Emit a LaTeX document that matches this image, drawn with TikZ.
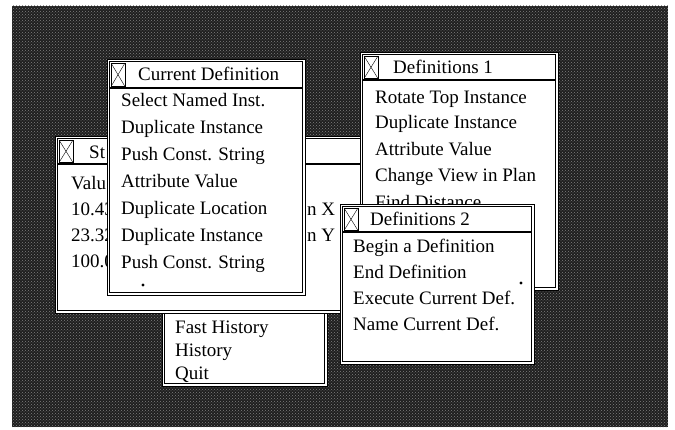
\documentclass[tikz,border=0pt]{standalone}
\usepackage{fontspec}
\setmainfont{Liberation Serif}
\usetikzlibrary{patterns}
\newcommand{\winfont}{\fontsize{19}{22}\selectfont}
% window: x1, y1, x2, y2, bottom of title bar
\newcommand{\mkwin}[5]{%
\fill[white] (#1,#2) rectangle (#3,#4);
\draw[line width=0.6pt] (#1,#2) rectangle (#3,#4);
\draw[line width=1.3pt] (#1+2.5,#2+2.5) rectangle (#3-2.5,#4-2.5);
\draw[line width=1.3pt] (#1+2.5,#5) -- (#3-2.5,#5);
\draw[line width=0.9pt] (#1+4,#2+4) rectangle (#1+18,#5-1.5);
\draw[line width=0.4pt] (#1+4,#2+4) -- (#1+18,#5-1.5) (#1+18,#2+4) -- (#1+4,#5-1.5);
}
\tikzset{
item/.style={anchor=base west, inner sep=0pt, font=\winfont},
}
\begin{document}
\begin{tikzpicture}[x=1pt, y=-1pt]
\useasboundingbox (0,0) rectangle (675,430);
\fill[black!88] (12,6) rectangle (668,427);
\fill[pattern=crosshatch dots, pattern color=black!50] (12,6) rectangle (668,427);
% history menu, under the status window
\fill[white] (162,280) rectangle (327,386);
\draw[line width=0.6pt] (162,280) rectangle (327,386);
\draw[line width=1.3pt] (164.5,280) rectangle (324.5,383.5);
\node[item] (FH) at (175,333.5) {Fast History};
\node[item] (HI) at (175,356.5) {History};
\node[item] (QU) at (175,379.5) {Quit};
% status window
\mkwin{55}{136}{420}{313}{164}
\node[item] (ST) at (89,158.5) {St};
\node[item] (SV) at (71,189.5) {Valu};
\node[item] (S1) at (71,215.5) {10.43};
\node[item] (S2) at (71,241.5) {23.32};
\node[item] (S3) at (71,267.5) {100.0};
\node[item] (SX) at (307,215.5) {n X};
\node[item] (SY) at (307,241.5) {n Y};
% definitions 1
\mkwin{360}{52}{558}{290}{80}
\node[item] (D1) at (393,73.5) {Definitions 1};
\node[item] (D11) at (375,103.5) {Rotate Top Instance};
\node[item] (D12) at (375,129) {Duplicate Instance};
\node[item] (D13) at (375,155.5) {Attribute Value};
\node[item] (D14) at (375,181.5) {Change View in Plan};
\node[item] (D15) at (375,209) {Find Distance};
% current definition
\mkwin{107}{59}{305}{295}{88}
\node[item] (CD) at (138,80.5) {Current Definition};
\node[item] (CD1) at (121,106.5) {Select Named Inst.};
\node[item] (CD2) at (121,133.5) {Duplicate Instance};
\node[item] (CD3) at (121,160.5) {Push Const. String};
\node[item] (CD4) at (121,187.5) {Attribute Value};
\node[item] (CD5) at (121,214.5) {Duplicate Location};
\node[item] (CD6) at (121,241.5) {Duplicate Instance};
\node[item] (CD7) at (121,268.5) {Push Const. String};
\fill (143,285) circle (1.6);
% definitions 2
\mkwin{340}{204}{534}{364}{232}
\node[item] (D2) at (370,225.5) {Definitions 2};
\node[item] (D21) at (353,252.5) {Begin a Definition};
\node[item] (D22) at (353,278.5) {End Definition};
\node[item] (D23) at (353,304.5) {Execute Current Def.};
\node[item] (D24) at (353,330.5) {Name Current Def.};
\fill (521,283) circle (1.6);
\end{tikzpicture}
\end{document}
